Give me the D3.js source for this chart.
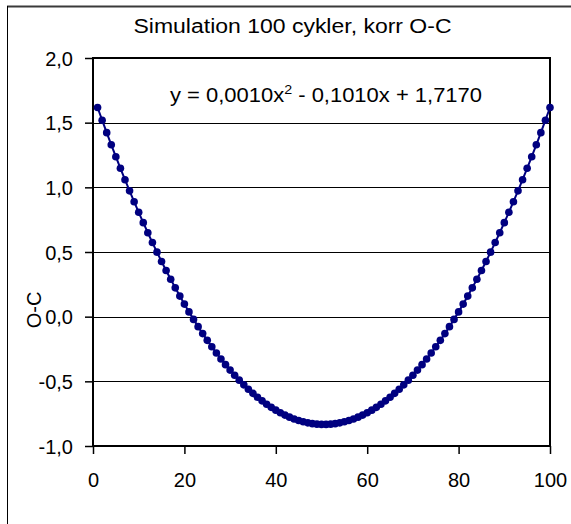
<!DOCTYPE html>
<html>
<head>
<meta charset="utf-8">
<script src="https://cdn.jsdelivr.net/npm/d3@7"></script>
<style>
  body { margin: 0; background: #fff; }
  svg { display: block; font-family: "Liberation Sans", Arial, sans-serif; }
</style>
</head>
<body>
<div id="chart"></div>
<script>
// Chart data (O-C per cycle, cycles 1..100)
var titleText = 'Simulation 100 cykler, korr O-C';
var yLabel = 'O-C';
var xTicks = [0, 20, 40, 60, 80, 100];
var yTicks = [-1.0, -0.5, 0.0, 0.5, 1.0, 1.5, 2.0];
var cycles = [
  1, 2, 3, 4, 5, 6, 7, 8, 9, 10, 11, 12, 13, 14, 15, 16, 17, 18, 19, 20,
  21, 22, 23, 24, 25, 26, 27, 28, 29, 30, 31, 32, 33, 34, 35, 36, 37, 38, 39, 40,
  41, 42, 43, 44, 45, 46, 47, 48, 49, 50, 51, 52, 53, 54, 55, 56, 57, 58, 59, 60,
  61, 62, 63, 64, 65, 66, 67, 68, 69, 70, 71, 72, 73, 74, 75, 76, 77, 78, 79, 80,
  81, 82, 83, 84, 85, 86, 87, 88, 89, 90, 91, 92, 93, 94, 95, 96, 97, 98, 99, 100
];
var oc = [
  1.617, 1.519, 1.423, 1.329, 1.237, 1.147, 1.059, 0.973, 0.889, 0.807,
  0.727, 0.649, 0.573, 0.499, 0.427, 0.357, 0.289, 0.223, 0.159, 0.097,
  0.037, -0.021, -0.077, -0.131, -0.183, -0.233, -0.281, -0.327, -0.371, -0.413,
  -0.453, -0.491, -0.527, -0.561, -0.593, -0.623, -0.651, -0.677, -0.701, -0.723,
  -0.743, -0.761, -0.777, -0.791, -0.803, -0.813, -0.821, -0.827, -0.831, -0.833,
  -0.833, -0.831, -0.827, -0.821, -0.813, -0.803, -0.791, -0.777, -0.761, -0.743,
  -0.723, -0.701, -0.677, -0.651, -0.623, -0.593, -0.561, -0.527, -0.491, -0.453,
  -0.413, -0.371, -0.327, -0.281, -0.233, -0.183, -0.131, -0.077, -0.021, 0.037,
  0.097, 0.159, 0.223, 0.289, 0.357, 0.427, 0.499, 0.573, 0.649, 0.727,
  0.807, 0.889, 0.973, 1.059, 1.147, 1.237, 1.329, 1.423, 1.519, 1.617
];

var width = 571;
var height = 524;
var margin = { top: 58, right: 21, bottom: 78, left: 93 };
var innerWidth = width - margin.left - margin.right;
var innerHeight = height - margin.top - margin.bottom;
var navy = '#000080';
var fmt = function (v) { return d3.format('.1f')(v).replace('.', ',').replace('−', '-'); };

var svg = d3.select('#chart').append('svg')
    .attr('width', width)
    .attr('height', height);

// Outer chart frame (cropped at right and bottom)
svg.append('line')
    .attr('x1', 7).attr('x2', width).attr('y1', 6.5).attr('y2', 6.5)
    .attr('stroke', '#3a3a3a').attr('stroke-width', 2);
svg.append('line')
    .attr('x1', 7.5).attr('x2', 7.5).attr('y1', 6).attr('y2', height)
    .attr('stroke', '#000').attr('stroke-width', 1);

var x = d3.scaleLinear().domain([0, 100]).range([0, innerWidth]);
var y = d3.scaleLinear().domain([-1, 2]).range([innerHeight, 0]);

var g = svg.append('g')
    .attr('transform', 'translate(' + margin.left + ',' + margin.top + ')');

// Gridlines
g.append('g')
    .selectAll('line')
    .data(yTicks.slice(1, -1))
    .enter().append('line')
    .attr('x1', 0).attr('x2', innerWidth)
    .attr('y1', function (d) { return Math.round(y(d)) + 0.5; })
    .attr('y2', function (d) { return Math.round(y(d)) + 0.5; })
    .attr('stroke', '#000').attr('stroke-width', 1.2);

// Plot border
g.append('rect')
    .attr('width', innerWidth).attr('height', innerHeight)
    .attr('fill', 'none').attr('stroke', '#000').attr('stroke-width', 2);

// Axes
var yAxis = d3.axisLeft(y).tickValues(yTicks).tickSize(8).tickPadding(12).tickFormat(fmt);
var xAxis = d3.axisBottom(x).tickValues(xTicks).tickSize(8).tickPadding(12);

var gy = g.append('g').call(yAxis);
var gx = g.append('g').attr('transform', 'translate(0,' + innerHeight + ')').call(xAxis);
[gx, gy].forEach(function (a) {
  a.select('.domain').remove();
  a.selectAll('line').attr('stroke', '#000').attr('stroke-width', 1.5);
  a.selectAll('text')
      .attr('fill', '#000')
      .style('font-size', '20px')
      .style('font-family', '"Liberation Sans", Arial, sans-serif');
});
gx.selectAll('text').attr('dy', '1.05em');
gy.selectAll('text').attr('dy', '0.36em');

// Series
var points = cycles.map(function (c, i) { return [c, oc[i]]; });
g.append('path')
    .datum(points)
    .attr('fill', 'none')
    .attr('stroke', navy)
    .attr('stroke-width', 2)
    .attr('d', d3.line()
      .x(function (d) { return x(d[0]); })
      .y(function (d) { return y(d[1]); }));
g.append('g')
    .selectAll('circle')
    .data(points)
    .enter().append('circle')
    .attr('cx', function (d) { return x(d[0]); })
    .attr('cy', function (d) { return y(d[1]); })
    .attr('r', 3.8)
    .attr('fill', navy);

// Title
svg.append('text')
    .attr('x', 292.5).attr('y', 33)
    .attr('text-anchor', 'middle')
    .attr('textLength', 318)
    .attr('lengthAdjust', 'spacingAndGlyphs')
    .style('font-size', '20px')
    .text(titleText);

// Trendline equation
var eq = svg.append('text')
    .attr('x', 170).attr('y', 102)
    .attr('textLength', 312)
    .attr('lengthAdjust', 'spacingAndGlyphs')
    .style('font-size', '20px');
eq.append('tspan').text('y = 0,0010x');
eq.append('tspan').attr('dy', -8).style('font-size', '13px').text('2');
eq.append('tspan').attr('dy', 8).text(' - 0,1010x + 1,7170');

// Y axis title
svg.append('text')
    .attr('transform', 'translate(41,310) rotate(-90)')
    .attr('text-anchor', 'middle')
    .style('font-size', '20px')
    .text(yLabel);
</script>
</body>
</html>
